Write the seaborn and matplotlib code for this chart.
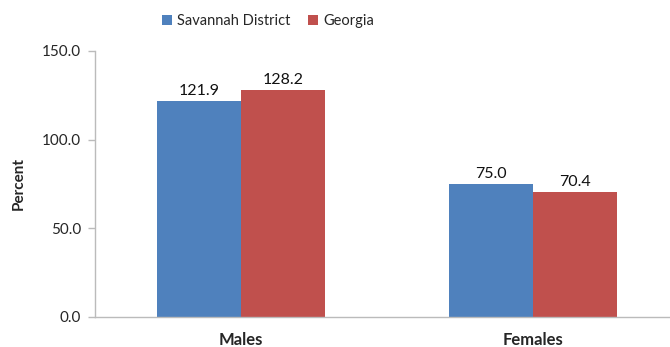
import matplotlib
matplotlib.use("Agg")
import matplotlib.pyplot as plt
import seaborn as sns
import pandas as pd

categories = ["Males", "Females"]
series_names = ["Savannah District", "Georgia"]
savannah = [121.9, 75.0]
georgia = [128.2, 70.4]
y_ticks = [0, 50, 100, 150]

df = pd.DataFrame({
    "Sex": categories * 2,
    "Region": [series_names[0]] * 2 + [series_names[1]] * 2,
    "Percent": savannah + georgia,
})

sns.set_theme(style="white")
plt.rcParams["font.family"] = ["Lato", "DejaVu Sans"]

fig = plt.figure(figsize=(6.7, 3.47), dpi=100)
ax = fig.add_axes([95 / 670, 1 - 317 / 347, (670 - 95) / 670, (317 - 51) / 347])

palette = {"Savannah District": "#4F81BD", "Georgia": "#C0504D"}
sns.barplot(data=df, x="Sex", y="Percent", hue="Region", order=categories,
            hue_order=series_names, palette=palette, width=0.575,
            saturation=1, ax=ax, edgecolor="none", linewidth=0)

for cont in ax.containers:
    ax.bar_label(cont, fmt="%.1f", padding=2, fontsize=11.5, color="#111111")

ax.set_ylim(0, 150)
ax.set_yticks(y_ticks)
ax.set_yticklabels([f"{v:.1f}" for v in y_ticks], fontsize=11)
ax.set_xlim(-0.5, -0.5 + 575 / 292)
ax.set_xticks([0, 1])
ax.set_xticklabels(categories, fontsize=12, fontweight="bold")
ax.set_xticks([0.5], minor=True)
ax.tick_params(axis="x", which="major", length=0, pad=11)
ax.tick_params(axis="x", which="minor", length=5, color="#BBBBBB", width=1)
ax.tick_params(axis="y", length=5, color="#BBBBBB", width=1, pad=5, left=True)
ax.set_xlabel("")
ax.set_ylabel("Percent", fontsize=11, fontweight="bold", labelpad=12)

for s in ["top", "right"]:
    ax.spines[s].set_visible(False)
for s in ["left", "bottom"]:
    ax.spines[s].set_color("#BBBBBB")
    ax.spines[s].set_linewidth(1)

leg = ax.legend(loc="center", bbox_to_anchor=((268 - 95) / 575, 1 + 30 / 266),
                ncol=2, frameon=False, fontsize=10.5, handlelength=0.7,
                handleheight=0.7, columnspacing=1.2, handletextpad=0.35)
leg.set_in_layout(False)

fig.savefig("out.png", dpi=100)
